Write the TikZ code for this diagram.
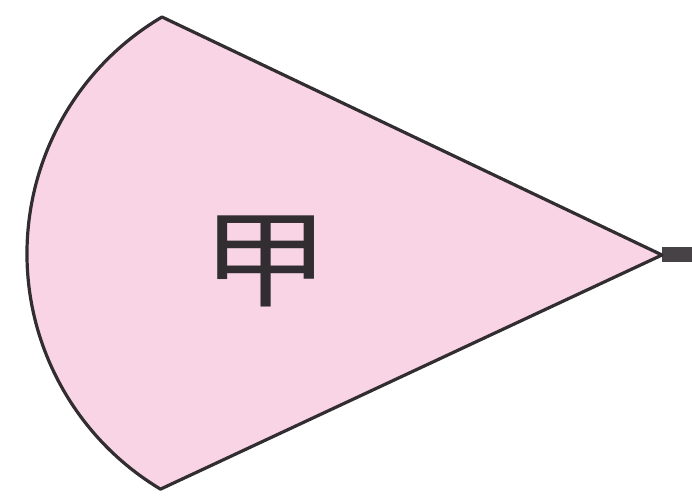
\documentclass[tikz,border=0pt]{standalone}
\usepackage{fontspec}
\newfontfamily\cjk{Noto Sans CJK SC}
\definecolor{sectorpink}{RGB}{248,212,228}
\definecolor{edgedark}{RGB}{50,45,48}
\tikzset{
  sectorshape/.style={fill=sectorpink, draw=edgedark, line width=3.2pt, line join=round},
  stub/.style={draw=edgedark!90!white, line width=15pt},
  bigchar/.style={font=\cjk\fontsize{112}{112}\selectfont, text=edgedark, inner sep=0pt}
}
\begin{document}
\begin{tikzpicture}[x=1pt,y=1pt]
\useasboundingbox (0,0) rectangle (692,495);
\coordinate (apex) at (662,240);
\coordinate (top) at (162,478);
\coordinate (tail) at (692,240);
\draw[stub] (apex) -- (tail);
\draw[sectorshape] (apex) -- (top) arc[start angle=120.57, end angle=239.07, radius=274.7] -- cycle;
\node[bigchar, xscale=1.15, yscale=0.95] (label) at (266,234) {甲};
\end{tikzpicture}
\end{document}
